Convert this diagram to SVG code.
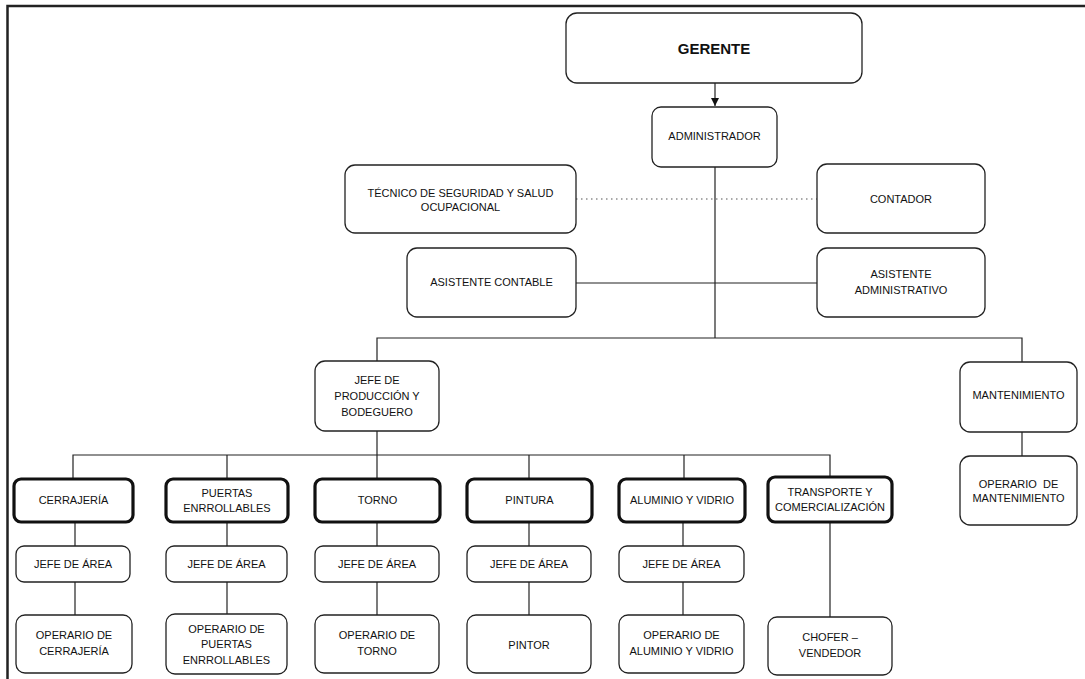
<svg xmlns="http://www.w3.org/2000/svg" width="1085" height="679" viewBox="0 0 1085 679">
<style>
.bx{fill:#fff;stroke:#222;stroke-width:1.3}
.tk{fill:#fff;stroke:#111;stroke-width:3.2}
.t{font-family:"Liberation Sans",Arial,sans-serif;font-size:11px;fill:#111;text-anchor:middle}
.ln{stroke:#222;stroke-width:1.2;fill:none}
</style>
<defs>
<marker id="ah" viewBox="0 0 10 10" refX="10" refY="5" markerWidth="8" markerHeight="8" markerUnits="userSpaceOnUse" orient="auto"><path d="M0,0 L10,5 L0,10 z" fill="#111"/></marker>
</defs>
<rect width="1085" height="679" fill="#fff"/>
<path d="M7.5,679 V6 H1085" fill="none" stroke="#222" stroke-width="2.5"/>
<g id="connectors">
<line class="ln" x1="715" y1="83" x2="715" y2="106" marker-end="url(#ah)"/>
<line class="ln" x1="715" y1="167" x2="715" y2="338"/>
<line x1="576" y1="199" x2="817" y2="199" stroke="#555" stroke-width="1.2" stroke-dasharray="1.5 3.5"/>
<line class="ln" x1="576" y1="283" x2="817" y2="283"/>
<path class="ln" d="M377,361 V338 H1022 V362"/>
<line class="ln" x1="1022" y1="432" x2="1022" y2="456"/>
<line class="ln" x1="377" y1="431" x2="377" y2="455"/>
<path class="ln" d="M73,478 V455 H830 V476"/>
<line class="ln" x1="227" y1="455" x2="227" y2="478"/>
<line class="ln" x1="377" y1="455" x2="377" y2="478"/>
<line class="ln" x1="529" y1="455" x2="529" y2="478"/>
<line class="ln" x1="684" y1="455" x2="684" y2="478"/>
<line class="ln" x1="75" y1="522" x2="75" y2="546"/>
<line class="ln" x1="75" y1="582" x2="75" y2="615"/>
<line class="ln" x1="227" y1="522" x2="227" y2="546"/>
<line class="ln" x1="227" y1="582" x2="227" y2="615"/>
<line class="ln" x1="377" y1="522" x2="377" y2="546"/>
<line class="ln" x1="377" y1="582" x2="377" y2="615"/>
<line class="ln" x1="529" y1="522" x2="529" y2="546"/>
<line class="ln" x1="529" y1="582" x2="529" y2="615"/>
<line class="ln" x1="683" y1="522" x2="683" y2="546"/>
<line class="ln" x1="683" y1="582" x2="683" y2="615"/>
<line class="ln" x1="830" y1="522" x2="830" y2="617"/>
</g>
<g id="gerente"><rect class="bx" x="566" y="13" width="296" height="70" rx="11"/><text class="t" x="714" y="54" style="font-size:15px;font-weight:bold">GERENTE</text></g>
<g id="administrador"><rect class="bx" x="652" y="107" width="125" height="60" rx="9"/><text class="t" x="714.5" y="140">ADMINISTRADOR</text></g>
<g id="tecnico"><rect class="bx" x="345" y="165" width="231" height="68" rx="10"/><text class="t" x="460.5" y="197">TÉCNICO DE SEGURIDAD Y SALUD</text><text class="t" x="460.5" y="211">OCUPACIONAL</text></g>
<g id="contador"><rect class="bx" x="817" y="164" width="168" height="69" rx="10"/><text class="t" x="901" y="203">CONTADOR</text></g>
<g id="asistente-contable"><rect class="bx" x="407" y="248" width="169" height="69" rx="10"/><text class="t" x="491.5" y="286">ASISTENTE CONTABLE</text></g>
<g id="asistente-administrativo"><rect class="bx" x="817" y="248" width="168" height="69" rx="10"/><text class="t" x="901" y="278">ASISTENTE</text><text class="t" x="901" y="294">ADMINISTRATIVO</text></g>
<g id="jefe-produccion"><rect class="bx" x="315" y="361" width="124" height="70" rx="10"/><text class="t" x="377" y="384">JEFE DE</text><text class="t" x="377" y="400">PRODUCCIÓN Y</text><text class="t" x="377" y="416">BODEGUERO</text></g>
<g id="mantenimiento"><rect class="bx" x="960" y="362" width="117" height="70" rx="10"/><text class="t" x="1018.5" y="399">MANTENIMIENTO</text></g>
<g id="operario-mantenimiento"><rect class="bx" x="960" y="456" width="117" height="69" rx="10"/><text class="t" x="1018.5" y="488" xml:space="preserve">OPERARIO  DE</text><text class="t" x="1018.5" y="502">MANTENIMIENTO</text></g>
<g id="cerrajeria"><rect class="tk" x="14" y="479" width="119" height="43" rx="7"/><text class="t" x="73.5" y="504">CERRAJERÍA</text></g>
<g id="puertas"><rect class="tk" x="166" y="479" width="122" height="43" rx="7"/><text class="t" x="227" y="497">PUERTAS</text><text class="t" x="227" y="512">ENRROLLABLES</text></g>
<g id="torno"><rect class="tk" x="315" y="479" width="125" height="43" rx="7"/><text class="t" x="377.5" y="504">TORNO</text></g>
<g id="pintura"><rect class="tk" x="467" y="479" width="125" height="43" rx="7"/><text class="t" x="529.5" y="504">PINTURA</text></g>
<g id="aluminio"><rect class="tk" x="619" y="479" width="126" height="43" rx="7"/><text class="t" x="682" y="504">ALUMINIO Y VIDRIO</text></g>
<g id="transporte"><rect class="tk" x="768" y="477" width="124" height="45" rx="7"/><text class="t" x="830" y="496">TRANSPORTE Y</text><text class="t" x="830" y="511">COMERCIALIZACIÓN</text></g>
<g id="jefe-area-1"><rect class="bx" x="16" y="546" width="114" height="36" rx="8"/><text class="t" x="73" y="568">JEFE DE ÁREA</text></g>
<g id="jefe-area-2"><rect class="bx" x="166" y="546" width="121" height="36" rx="8"/><text class="t" x="226.5" y="568">JEFE DE ÁREA</text></g>
<g id="jefe-area-3"><rect class="bx" x="315" y="546" width="124" height="36" rx="8"/><text class="t" x="377" y="568">JEFE DE ÁREA</text></g>
<g id="jefe-area-4"><rect class="bx" x="467" y="546" width="124" height="36" rx="8"/><text class="t" x="529" y="568">JEFE DE ÁREA</text></g>
<g id="jefe-area-5"><rect class="bx" x="619" y="546" width="125" height="36" rx="8"/><text class="t" x="681.5" y="568">JEFE DE ÁREA</text></g>
<g id="operario-cerrajeria"><rect class="bx" x="16" y="615" width="116" height="58" rx="9"/><text class="t" x="74" y="639">OPERARIO DE</text><text class="t" x="74" y="655">CERRAJERÍA</text></g>
<g id="operario-puertas"><rect class="bx" x="166" y="614" width="121" height="60" rx="9"/><text class="t" x="226.5" y="633">OPERARIO DE</text><text class="t" x="226.5" y="648">PUERTAS</text><text class="t" x="226.5" y="664">ENRROLLABLES</text></g>
<g id="operario-torno"><rect class="bx" x="315" y="615" width="124" height="58" rx="9"/><text class="t" x="377" y="639">OPERARIO DE</text><text class="t" x="377" y="655">TORNO</text></g>
<g id="pintor"><rect class="bx" x="467" y="615" width="124" height="58" rx="9"/><text class="t" x="529" y="649">PINTOR</text></g>
<g id="operario-aluminio"><rect class="bx" x="619" y="615" width="125" height="58" rx="9"/><text class="t" x="681.5" y="639">OPERARIO DE</text><text class="t" x="681.5" y="655">ALUMINIO Y VIDRIO</text></g>
<g id="chofer"><rect class="bx" x="768" y="617" width="124" height="58" rx="9"/><text class="t" x="830" y="641">CHOFER –</text><text class="t" x="830" y="657">VENDEDOR</text></g>
</svg>
